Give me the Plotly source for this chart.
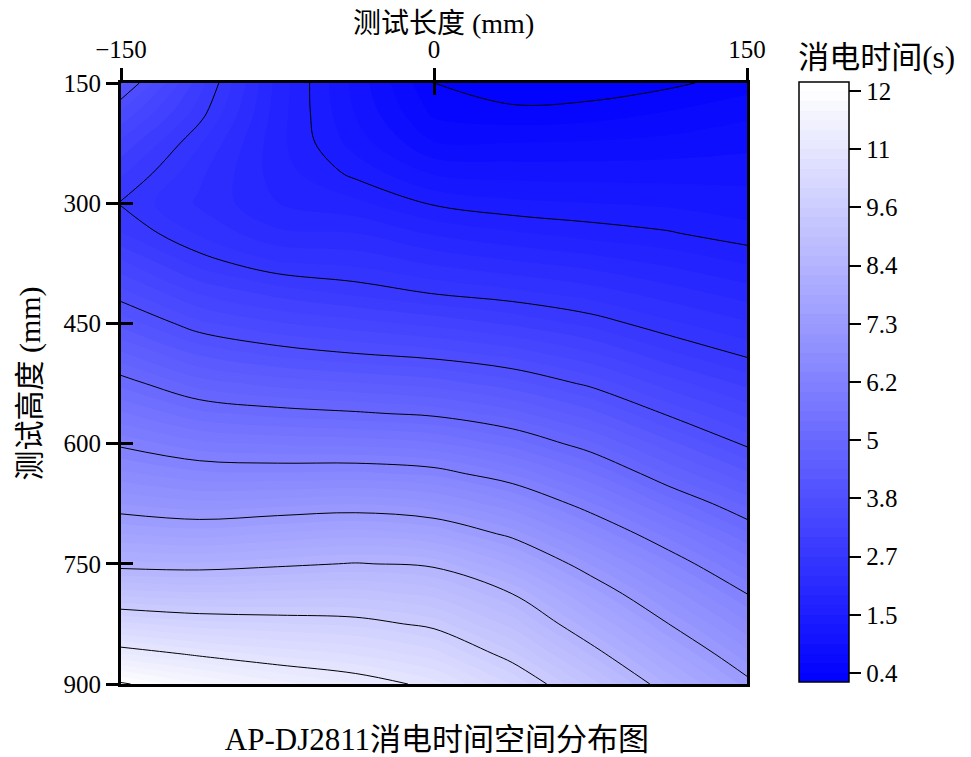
import plotly.graph_objects as go

# measuring positions
length_mm = [-150, -112.5, -75, -37.5, 0, 37.5, 75, 112.5, 150]
height_mm = [150, 187.5, 225, 262.5, 300, 337.5, 375, 412.5, 450, 487.5, 525,
             562.5, 600, 637.5, 675, 712.5, 750, 787.5, 825, 862.5, 900]

# cut-off time (s), one list per height
t_150 = [4.15, 3.00, 1.88, 1.10, 0.40, 0.25, 0.25, 0.35, 0.50]
t_187 = [3.65, 2.81, 1.85, 1.16, 0.55, 0.46, 0.50, 0.61, 0.74]
t_225 = [3.25, 2.55, 1.82, 1.28, 0.80, 0.79, 0.81, 0.85, 0.92]
t_262 = [2.95, 2.38, 1.85, 1.50, 1.15, 1.10, 1.09, 1.09, 1.10]
t_300 = [2.70, 2.30, 1.95, 1.80, 1.53, 1.41, 1.37, 1.33, 1.27]
t_337 = [2.92, 2.50, 2.18, 2.14, 1.92, 1.78, 1.67, 1.58, 1.44]
t_375 = [3.35, 2.84, 2.55, 2.48, 2.31, 2.18, 2.06, 1.91, 1.74]
t_412 = [3.76, 3.29, 3.04, 2.87, 2.71, 2.59, 2.44, 2.24, 2.05]
t_450 = [4.20, 3.73, 3.51, 3.38, 3.24, 3.07, 2.85, 2.57, 2.36]
t_487 = [4.69, 4.23, 4.01, 3.88, 3.77, 3.60, 3.33, 2.95, 2.67]
t_525 = [5.17, 4.75, 4.58, 4.48, 4.37, 4.15, 3.82, 3.40, 3.05]
t_562 = [5.65, 5.29, 5.16, 5.08, 4.98, 4.73, 4.34, 3.84, 3.44]
t_600 = [6.14, 5.87, 5.79, 5.75, 5.65, 5.34, 4.88, 4.33, 3.83]
t_637 = [6.64, 6.45, 6.42, 6.44, 6.34, 5.99, 5.45, 4.81, 4.30]
t_675 = [7.16, 7.03, 7.09, 7.15, 7.02, 6.63, 6.03, 5.36, 4.79]
t_712 = [7.75, 7.66, 7.77, 7.85, 7.72, 7.27, 6.59, 5.92, 5.27]
t_750 = [8.39, 8.36, 8.45, 8.54, 8.45, 7.90, 7.15, 6.43, 5.74]
t_787 = [9.22, 9.14, 9.17, 9.19, 9.03, 8.52, 7.68, 6.90, 6.20]
t_825 = [10.12, 9.96, 9.89, 9.82, 9.59, 9.02, 8.18, 7.36, 6.62]
t_862 = [11.05, 10.78, 10.58, 10.43, 10.15, 9.53, 8.69, 7.82, 7.04]
t_900 = [12.05, 11.64, 11.30, 11.06, 10.73, 10.05, 9.21, 8.30, 7.47]
cut_off = [t_150, t_187, t_225, t_262, t_300, t_337, t_375, t_412, t_450, t_487, t_525,
           t_562, t_600, t_637, t_675, t_712, t_750, t_787, t_825, t_862, t_900]

x_ticks = [-150, 0, 150]
y_ticks = [150, 300, 450, 600, 750, 900]
bar_vals = [0.4, 1.56, 2.72, 3.88, 5.04, 6.2, 7.36, 8.52, 9.68, 10.84, 12]
bar_text = ["0.4", "1.5", "2.7", "3.8", "5", "6.2", "7.3", "8.4", "9.6", "11", "12"]

FONT = "Liberation Serif, Noto Sans CJK SC"
ticks_font = dict(family=FONT, size=25, color="black")
axis_title_font = dict(family=FONT, size=30, color="black")
top_title_font = dict(family=FONT, size=28, color="black")
big_title_font = dict(family=FONT, size=31, color="black")

fig = go.Figure()

# filled bands, six per labelled step
fig.add_trace(go.Contour(
    x=length_mm, y=height_mm, z=cut_off,
    colorscale=[[0, "rgb(0,0,255)"], [1, "rgb(255,255,255)"]],
    zmin=0.22, zmax=12.18,
    autocontour=False,
    contours=dict(start=0.2067, end=12.18, size=0.1933, coloring="fill", showlines=False),
    line=dict(width=0, smoothing=1.0),
    colorbar=dict(
        x=678 / 626, xanchor="left", xpad=0,
        y=2 / 601, yanchor="bottom", ypad=0,
        len=640, lenmode="pixels",
        thickness=50,
        outlinecolor="black", outlinewidth=1.5,
        tickmode="array", tickvals=bar_vals, ticktext=bar_text,
        ticks="outside", ticklen=12, tickwidth=1.5, tickcolor="black",
        tickfont=ticks_font,
        title=dict(text="消电时间(s)", side="top", font=big_title_font),
    ),
))

# black contour lines at the labelled levels
fig.add_trace(go.Contour(
    x=length_mm, y=height_mm, z=cut_off,
    xaxis="x2", yaxis="y2",
    autocontour=False,
    contours=dict(start=0.4, end=12, size=1.16, coloring="none"),
    line=dict(color="black", width=1, smoothing=1.0),
    showscale=False,
    hoverinfo="skip",
))

# the page sits 8px in from the window corner, so 963x749 fills the window
fig.update_layout(
    width=963, height=749,
    margin=dict(l=113, r=224, t=75, b=73, autoexpand=False),
    paper_bgcolor="white", plot_bgcolor="white",
    title=dict(
        text="AP-DJ2811消电时间空间分布图",
        font=big_title_font,
        x=429 / 963, xanchor="center", xref="container",
        y=1 - 731 / 749, yanchor="middle", yref="container",
    ),
    xaxis=dict(
        side="top", range=[-150, 150],
        tickmode="array", tickvals=x_ticks,
        ticks="outside", ticklen=12, tickwidth=2.5, tickcolor="black",
        showline=True, linecolor="black", linewidth=3, mirror=True,
        showgrid=False, zeroline=False,
        tickfont=ticks_font,
    ),
    yaxis=dict(
        range=[900, 150],
        tickmode="array", tickvals=y_ticks,
        ticks="outside", ticklen=12, tickwidth=2.5, tickcolor="black",
        showline=True, linecolor="black", linewidth=3, mirror=True,
        showgrid=False, zeroline=False,
        tickfont=ticks_font,
        title=dict(text="测试高度 (mm)", font=axis_title_font, standoff=15),
    ),
    # same ranges again, only for the inner half of each tick
    xaxis2=dict(
        overlaying="x", side="top", range=[-150, 150],
        tickmode="array", tickvals=x_ticks,
        ticks="inside", ticklen=12, tickwidth=2.5, tickcolor="black",
        showticklabels=False, showline=False, showgrid=False, zeroline=False,
    ),
    yaxis2=dict(
        overlaying="y", side="left", range=[900, 150],
        tickmode="array", tickvals=y_ticks,
        ticks="inside", ticklen=12, tickwidth=2.5, tickcolor="black",
        showticklabels=False, showline=False, showgrid=False, zeroline=False,
    ),
    # sits a little lower than the reference, higher gets clipped by the svg
    annotations=[dict(
        text="测试长度 (mm)", font=top_title_font, showarrow=False,
        xref="paper", x=322 / 626, xanchor="center",
        yref="paper", y=1 + 60 / 601, yanchor="middle",
    )],
)

fig.write_html("out.html")
